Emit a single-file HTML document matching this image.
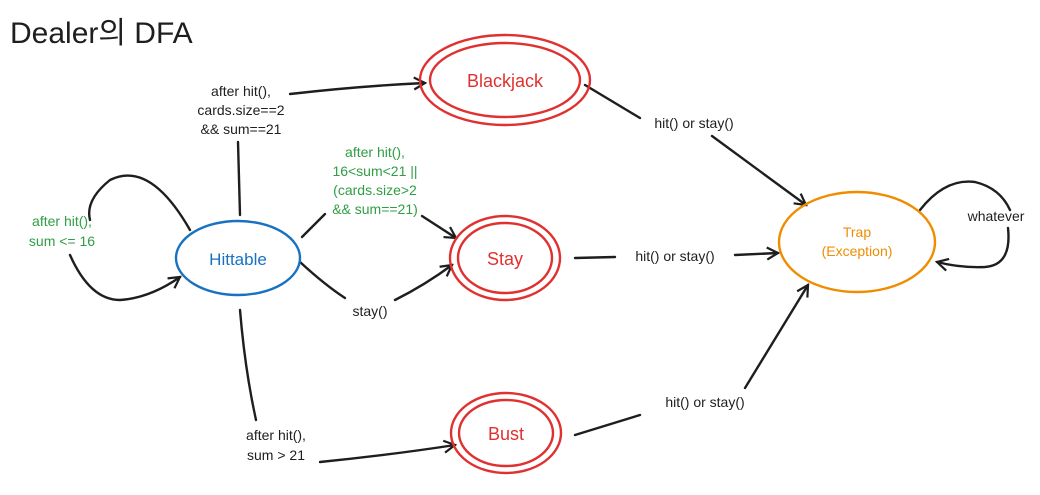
<!DOCTYPE html>
<html><head><meta charset="utf-8"><style>
html,body{margin:0;padding:0;background:#fff;width:1040px;height:495px;overflow:hidden}
svg{display:block}
text{font-family:"Liberation Sans","Noto Sans CJK KR",sans-serif}
</style></head><body>
<svg width="1040" height="495" viewBox="0 0 1040 495" xmlns="http://www.w3.org/2000/svg">
<defs>
<marker id="a" markerWidth="14" markerHeight="14" refX="12" refY="7" orient="auto" markerUnits="userSpaceOnUse">
<path d="M1,1 L12,7 L1,13" fill="none" stroke="#1e1e1e" stroke-width="2.2"/></marker>
</defs>
<text x="10" y="43" font-size="30" fill="#1e1e1e">Dealer의 DFA</text>

<g fill="none" stroke="#1e1e1e" stroke-width="2.4" stroke-linecap="round">
<!-- Hittable -> Blackjack -->
<path d="M240,215 L238,142"/>
<path d="M290,94 Q360,86 425,83" marker-end="url(#a)"/>
<!-- Hittable -> Stay -->
<path d="M302,237 L325,214"/>
<path d="M422,216 L456,238" marker-end="url(#a)"/>
<!-- stay() -->
<path d="M300,262 Q325,285 345,298"/>
<path d="M395,300 Q425,285 452,265" marker-end="url(#a)"/>
<!-- Bust -->
<path d="M240,310 Q245,370 256,420"/>
<path d="M320,462 Q390,455 455,445" marker-end="url(#a)"/>
<!-- self loop -->
<path d="M190,230 Q150,160 110,180 Q85,200 90,220"/>
<path d="M70,255 Q90,300 120,300 Q150,298 180,277" marker-end="url(#a)"/>
<!-- Blackjack -> Trap -->
<path d="M585,85 L640,118"/>
<path d="M712,136 L806,205" marker-end="url(#a)"/>
<!-- Stay -> Trap -->
<path d="M575,258 L615,257"/>
<path d="M735,255 L778,253" marker-end="url(#a)"/>
<!-- Bust -> Trap -->
<path d="M575,435 L640,415"/>
<path d="M745,388 L808,285" marker-end="url(#a)"/>
<!-- Trap loop -->
<path d="M920,210 Q945,178 975,182 Q1000,188 1010,210"/>
<path d="M1008,228 Q1012,265 985,267 Q960,268 937,262" marker-end="url(#a)"/>
</g>

<!-- nodes -->
<ellipse cx="238" cy="258" rx="62" ry="37" fill="none" stroke="#1971c2" stroke-width="2.4"/>
<text x="238" y="265" font-size="17" fill="#1971c2" text-anchor="middle">Hittable</text>

<g fill="none" stroke="#e03131" stroke-width="2.4">
<ellipse cx="505" cy="80" rx="85" ry="45"/>
<ellipse cx="505" cy="80" rx="75" ry="37"/>
<ellipse cx="505" cy="258" rx="55" ry="42"/>
<ellipse cx="505" cy="258" rx="47" ry="35"/>
<ellipse cx="506" cy="433" rx="55" ry="40"/>
<ellipse cx="506" cy="433" rx="47" ry="33"/>
</g>
<text x="505" y="87" font-size="18" fill="#e03131" text-anchor="middle">Blackjack</text>
<text x="505" y="265" font-size="18" fill="#e03131" text-anchor="middle">Stay</text>
<text x="506" y="440" font-size="18" fill="#e03131" text-anchor="middle">Bust</text>

<ellipse cx="857" cy="242" rx="78" ry="50" fill="none" stroke="#f08c00" stroke-width="2.4"/>
<text x="857" y="237" font-size="14" fill="#f08c00" text-anchor="middle">Trap</text>
<text x="857" y="256" font-size="14" fill="#f08c00" text-anchor="middle">(Exception)</text>

<!-- labels -->
<g font-size="14" fill="#1e1e1e" text-anchor="middle">
<text x="241" y="96">after hit(),</text>
<text x="241" y="115">cards.size==2</text>
<text x="241" y="134">&amp;&amp; sum==21</text>
<text x="370" y="316">stay()</text>
<text x="276" y="440">after hit(),</text>
<text x="276" y="460">sum &gt; 21</text>
<text x="694" y="128">hit() or stay()</text>
<text x="675" y="261">hit() or stay()</text>
<text x="705" y="407">hit() or stay()</text>
<text x="996" y="221">whatever</text>
</g>
<g font-size="14" fill="#2f9e44" text-anchor="middle">
<text x="375" y="157">after hit(),</text>
<text x="375" y="176">16&lt;sum&lt;21 ||</text>
<text x="375" y="195">(cards.size&gt;2</text>
<text x="375" y="214">&amp;&amp; sum==21)</text>
<text x="62" y="226">after hit(),</text>
<text x="62" y="246">sum &lt;= 16</text>
</g>
</svg>
</body></html>
